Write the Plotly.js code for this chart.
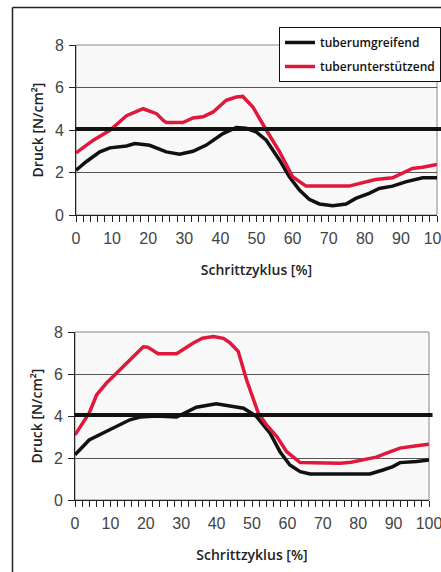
<!DOCTYPE html>
<html>
<head>
<meta charset="utf-8">
<script src="https://cdn.plot.ly/plotly-3.0.1.min.js"></script>
<style>html,body{margin:0;padding:0;background:#fff;}#chart{width:441px;height:572px;}</style>
</head>
<body>
<div id="chart"></div>
<script>
// Top chart
const topBlackX = [0,3,6.6,9.4,14,16.3,20.4,25,28.7,32.4,36.1,40.7,44.4,47.1,49.9,52.7,56.4,59.1,61.9,64.6,67.4,71.1,74.8,77.5,81.2,84,87.7,91.3,96,100];
const topBlackY = [2.11,2.53,2.97,3.16,3.25,3.36,3.28,2.97,2.86,3.0,3.29,3.83,4.12,4.08,3.91,3.52,2.58,1.8,1.17,0.74,0.52,0.44,0.52,0.78,1.02,1.25,1.36,1.56,1.75,1.75];
const topRedX = [0,4,4.8,9.4,14,18.6,22.3,24.1,25,29.6,32.4,35.2,38,41.6,44.4,46.2,49,52.7,56.4,60,63.7,70,75.7,77.5,83,87.7,93.2,96,100];
const topRedY = [2.92,3.4,3.52,3.99,4.67,5.0,4.77,4.46,4.35,4.35,4.57,4.62,4.85,5.4,5.55,5.58,5.08,4.0,2.97,1.8,1.36,1.36,1.36,1.44,1.67,1.75,2.19,2.25,2.38];
// Bottom chart
const botBlackX = [0,4,7.8,11.5,15.5,18.4,23.1,28.7,31.5,34.3,39.9,43.8,45.7,47.6,49.9,51.3,55.1,57.9,60.7,63.6,66.4,75,83.3,87,89.8,91.8,96.5,100];
const botBlackY = [2.15,2.86,3.18,3.5,3.82,3.95,4.0,3.95,4.17,4.42,4.58,4.48,4.42,4.37,4.13,3.97,3.18,2.3,1.67,1.35,1.24,1.24,1.24,1.43,1.59,1.78,1.83,1.91];
const botRedX = [0,2,4,6.1,8.9,12.7,16,19.3,20.5,23.5,28.7,33.4,36,39.1,41.9,43.8,46.1,48.5,51.8,54.1,57,59.8,63.6,70,74.9,78,81.4,85.1,88,91.8,96.5,100];
const botRedY = [3.1,3.6,4.13,5.0,5.57,6.2,6.76,7.3,7.28,6.97,6.97,7.48,7.7,7.79,7.7,7.48,7.08,5.7,4.13,3.58,3.02,2.3,1.78,1.75,1.75,1.8,1.91,2.04,2.23,2.47,2.58,2.66];
const threshold = 4.05;

const seriesNames = ['tuberumgreifend','tuberunterstützend'];
const xTickVals = [0,10,20,30,40,50,60,70,80,90,100];
const yTickVals = [0,2,4,6,8];
const xTitle = 'Schrittzyklus [%]';
const yTitle = 'Druck [N/cm²]';

const BLACK = '#111111', RED = '#e0183c';
const W = 441, H = 572;

const traces = [
  {x: topBlackX, y: topBlackY, xaxis:'x', yaxis:'y', mode:'lines', name: seriesNames[0], legendgroup:'a', line:{color:BLACK, width:3.5}, showlegend:true},
  {x: topRedX, y: topRedY, xaxis:'x', yaxis:'y', mode:'lines', name: seriesNames[1], legendgroup:'b', line:{color:RED, width:3.5}, showlegend:true},
  {x: botBlackX, y: botBlackY, xaxis:'x2', yaxis:'y2', mode:'lines', name: seriesNames[0], legendgroup:'a', line:{color:BLACK, width:3.5}, showlegend:false},
  {x: botRedX, y: botRedY, xaxis:'x2', yaxis:'y2', mode:'lines', name: seriesNames[1], legendgroup:'b', line:{color:RED, width:3.5}, showlegend:false}
];

const tickFont = {family:'Liberation Sans, Arial, sans-serif', size:16, color:'#444'};
const titleFont = {family:'Open Sans, sans-serif', size:14, color:'#222', weight:600};

function xAxis(domain, anchor){
  return {
    domain: domain, anchor: anchor, range:[0,100], tickvals: xTickVals, ticktext: xTickVals.map(String),
    ticks:'outside', ticklen:6, tickcolor:'#222', tickwidth:1, ticklabelstandoff:3, ticklabeloverflow:'allow',
    minor:{dtick:2, tick0:0, ticks:'outside', ticklen:6, tickcolor:'#222', tickwidth:1, showgrid:false},
    showline:true, linecolor:'#222', linewidth:1, showgrid:false, zeroline:false,
    tickfont: tickFont, title:{text:xTitle, font:titleFont, standoff:18}, automargin:false, fixedrange:true
  };
}
function yAxis(domain, anchor){
  return {
    domain: domain, anchor: anchor, range:[0,8], tickvals: yTickVals, ticktext: yTickVals.map(String),
    ticks:'outside', ticklen:6, tickcolor:'#222', tickwidth:1, ticklabelstandoff:2,
    showline:true, linecolor:'#222', linewidth:1, showgrid:true, gridcolor:'#555', gridwidth:1, zeroline:false,
    tickfont: tickFont, title:{text:yTitle, font:titleFont, standoff:7}, automargin:false, fixedrange:true
  };
}

const layout = {
  width: W, height: H,
  margin:{l:0,r:0,t:0,b:0, autoexpand:false},
  paper_bgcolor:'#ffffff', plot_bgcolor:'#f8f8f8',
  showlegend:true,
  legend:{x:279/W, y:1-27/H, xanchor:'left', yanchor:'top', bgcolor:'#ffffff', bordercolor:'#111', borderwidth:1,
          font:{family:'Open Sans, sans-serif', size:12, color:'#111', weight:600}, tracegroupgap:5},
  xaxis: xAxis([76/W, 437/W], 'y'),
  yaxis: yAxis([1-215/H, 1-45/H], 'x'),
  xaxis2: xAxis([75/W, 429/W], 'y2'),
  yaxis2: yAxis([1-500/H, 1-332/H], 'x2'),
  shapes: [
    {type:'rect', xref:'x domain', yref:'y domain', x0:0, x1:1, y0:0, y1:1, line:{color:'#888', width:1}, layer:'below'},
    {type:'rect', xref:'x2 domain', yref:'y2 domain', x0:0, x1:1, y0:0, y1:1, line:{color:'#888', width:1}, layer:'below'},
    {type:'line', xref:'x domain', yref:'y', x0:0, x1:1.02, y0:threshold, y1:threshold, line:{color:BLACK, width:4}},
    {type:'line', xref:'x2 domain', yref:'y2', x0:0, x1:1.01, y0:threshold, y1:threshold, line:{color:BLACK, width:4}},
    {type:'line', xref:'paper', yref:'paper', x0:12.5/W, x1:1, y0:1-7.5/H, y1:1-7.5/H, line:{color:'#222', width:1.5}},
    {type:'line', xref:'paper', yref:'paper', x0:12.5/W, x1:12.5/W, y0:0, y1:1-7.5/H, line:{color:'#222', width:1.5}}
  ]
};

Plotly.newPlot('chart', traces, layout, {staticPlot:true, displayModeBar:false});
</script>
</body>
</html>
